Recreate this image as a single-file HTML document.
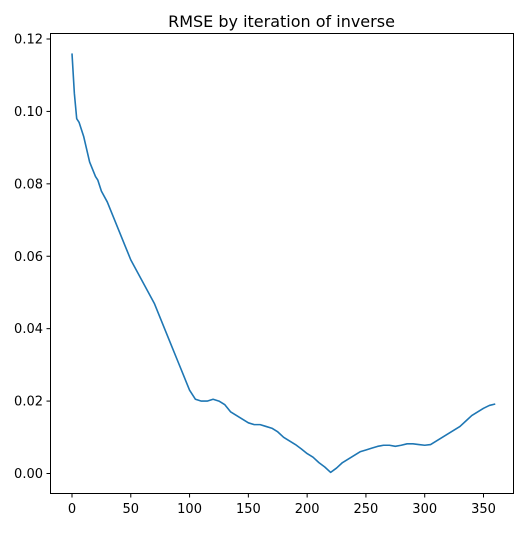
<!DOCTYPE html>
<html><head><meta charset="utf-8"><style>
body{margin:0;background:#fff;}
text{font-family:"DejaVu Sans","Liberation Sans",sans-serif;fill:#000;}
</style></head><body>
<svg id="chart" width="525" height="528" xmlns="http://www.w3.org/2000/svg">
<rect width="525" height="528" fill="#fff"/>
<text x="281.5" y="27" text-anchor="middle" font-size="16">RMSE by iteration of inverse</text>
<g id="plot"></g>
<rect x="50.5" y="33.5" width="463" height="460" fill="none" stroke="#000" stroke-width="1"/>
</svg>
<script>
const iters=[0,2,4,6,10,15,20,22,25,30,35,40,45,50,55,60,65,70,75,80,85,90,95,100,105,110,115,120,125,130,135,140,145,150,155,160,165,170,175,180,185,190,195,200,205,210,215,220,225,230,235,240,245,250,255,260,265,270,275,280,285,290,295,300,305,310,315,320,325,330,335,340,345,350,355,360];
const rmse=[0.116,0.105,0.098,0.097,0.093,0.086,0.082,0.081,0.078,0.075,0.071,0.067,0.063,0.059,0.056,0.053,0.050,0.047,0.043,0.039,0.035,0.031,0.027,0.023,0.0205,0.020,0.020,0.0205,0.020,0.019,0.017,0.016,0.015,0.014,0.0135,0.0135,0.013,0.0125,0.0115,0.010,0.009,0.008,0.0068,0.0055,0.0045,0.003,0.0018,0.0003,0.0015,0.003,0.004,0.005,0.006,0.0065,0.007,0.0075,0.0078,0.0078,0.0075,0.0078,0.0082,0.0082,0.008,0.0078,0.008,0.009,0.010,0.011,0.012,0.013,0.0145,0.016,0.017,0.018,0.0188,0.0192];
const xTicks=[0,50,100,150,200,250,300,350];
const yTicks=[0.00,0.02,0.04,0.06,0.08,0.10,0.12];
const NS="http://www.w3.org/2000/svg";
const xs=v=>72+v*(411.5/350);
const ys=v=>473.5-v*(434.5/0.12);
const g=document.getElementById('plot');
function mk(t,a){const e=document.createElementNS(NS,t);for(const k in a)e.setAttribute(k,a[k]);return e;}
xTicks.forEach(t=>{
  const l=mk('line',{x1:xs(t),x2:xs(t),y1:493.5,y2:497.5,stroke:'#000'});
  
  
  g.appendChild(l);
  const tx=mk('text',{x:xs(t),y:513,'text-anchor':'middle','font-size':'13'});
  tx.textContent=t;
  
  
  g.appendChild(tx);
});
yTicks.forEach(t=>{
  const l=mk('line',{x1:46.5,x2:50.5,y1:ys(t),y2:ys(t),stroke:'#000'});
  
  
  g.appendChild(l);
  const tx=mk('text',{x:43,y:ys(t)+4.5,'text-anchor':'end','font-size':'13'});
  tx.textContent=t.toFixed(2);
  
  
  g.appendChild(tx);
});
const p=mk('polyline',{points:iters.map((x,i)=>xs(x)+','+ys(rmse[i])).join(' '),fill:'none',stroke:'#1f77b4','stroke-width':'1.6','stroke-linejoin':'round'});


g.appendChild(p);
</script>
</body></html>
